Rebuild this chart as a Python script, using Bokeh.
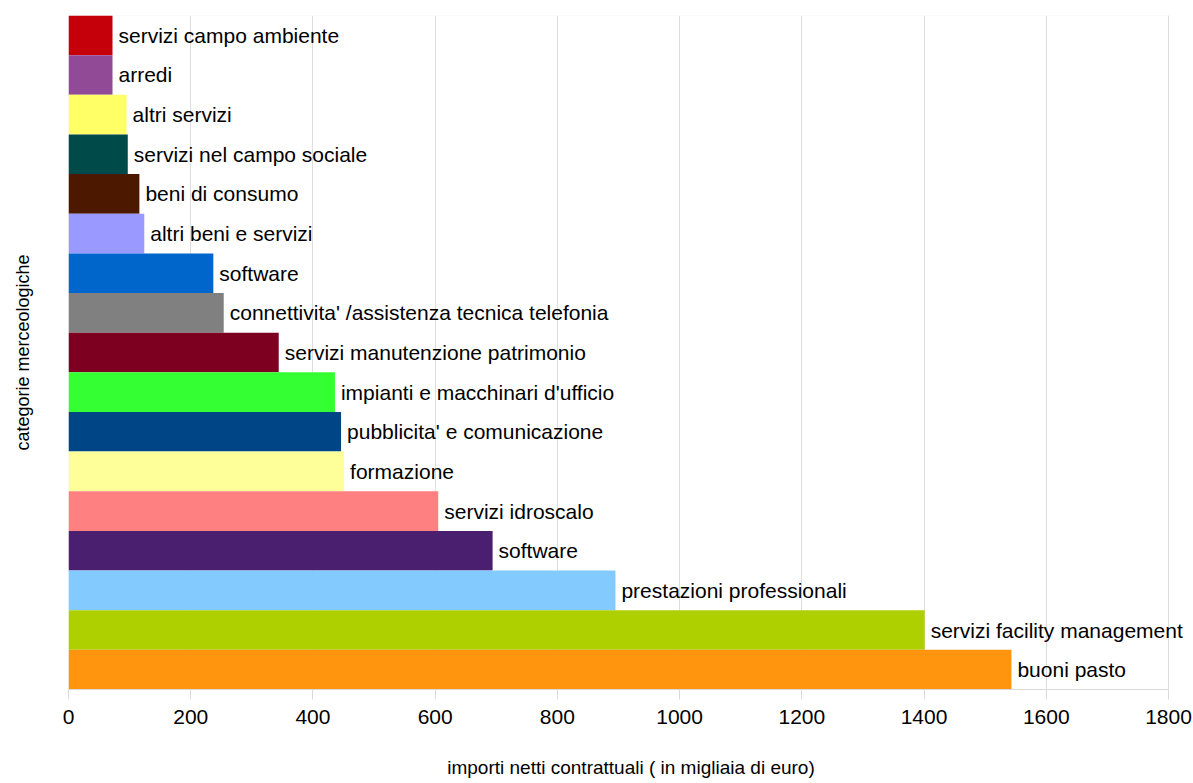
from bokeh.plotting import figure
from bokeh.models import ColumnDataSource, Range1d, FixedTicker, BoxAnnotation
from bokeh.embed import file_html
from bokeh.resources import INLINE
from bokeh.core.properties import value

categories = [
    "servizi campo ambiente",
    "arredi",
    "altri servizi",
    "servizi nel campo sociale",
    "beni di consumo",
    "altri beni e servizi",
    "software",
    "connettivita' /assistenza tecnica telefonia",
    "servizi manutenzione patrimonio",
    "impianti e macchinari d'ufficio",
    "pubblicita' e comunicazione",
    "formazione",
    "servizi idroscalo",
    "software",
    "prestazioni professionali",
    "servizi facility management",
    "buoni pasto",
]
values = [72, 72, 95, 97, 116, 124, 237, 254, 344, 436, 446, 451, 605, 694, 895, 1401, 1543]
colors = [
    "#C5000B", "#904A96", "#FFFF66", "#004A4A", "#4C1900", "#9999FF",
    "#0066CC", "#808080", "#7E0021", "#33FF33", "#004586", "#FFFF99",
    "#FF8080", "#4B1F6F", "#83CAFF", "#AECF00", "#FF950E",
]
x_ticks = [0, 200, 400, 600, 800, 1000, 1200, 1400, 1600, 1800]
x_max = 1800

n = len(categories)
pos = [n - 1 - i for i in range(n)]

src = ColumnDataSource(dict(y=pos, x=values, c=colors, label=categories))

W, H = 1193, 780
left_b, top_b, bottom_b = 68, 15, 90
axis_px = 1100  # pixels spanned by 0..1800
frame_w = W - left_b
x_end = x_max * frame_w / axis_px

p = figure(width=W, height=H, output_backend="svg", toolbar_location=None,
           x_range=Range1d(0, x_end), y_range=Range1d(-0.5, n - 0.5),
           min_border_left=left_b, min_border_right=0, min_border_top=top_b,
           min_border_bottom=bottom_b)

p.hbar(y="y", right="x", left=0, height=1.0, fill_color="c", line_color=None, source=src)
p.text(x="x", y="y", text="label", source=src, x_offset=6, text_baseline="middle",
       text_align="left", text_font=value("Liberation Sans"), text_font_size="21px",
       text_color="#000000")

ya = p.yaxis[0]
ya.ticker = FixedTicker(ticks=[])
ya.major_label_text_font_size = "0px"
ya.major_tick_out = 0
ya.major_tick_in = 0
ya.minor_tick_out = 0
ya.minor_tick_in = 0
ya.axis_line_color = None
ya.axis_label = "categorie merceologiche"
ya.axis_label_text_font = "Liberation Sans"
ya.axis_label_text_font_style = "normal"
ya.axis_label_text_font_size = "18px"
ya.axis_label_text_color = "#000000"
ya.axis_label_standoff = 36
p.ygrid.visible = False

xa = p.xaxis[0]
xa.bounds = (0, x_max)
xa.ticker = FixedTicker(ticks=x_ticks)
xa.major_label_text_font = "Liberation Sans"
xa.major_label_text_font_size = "21px"
xa.major_label_text_color = "#000000"
xa.major_label_standoff = 10
xa.major_tick_out = 10
xa.major_tick_in = 0
xa.minor_tick_out = 0
xa.minor_tick_in = 0
xa.major_tick_line_color = "#d9d9d9"
xa.axis_line_color = "#d9d9d9"
xa.axis_label = "importi netti contrattuali ( in migliaia di euro)"
xa.axis_label_text_font = "Liberation Sans"
xa.axis_label_text_font_style = "normal"
xa.axis_label_text_font_size = "19px"
xa.axis_label_text_color = "#000000"
xa.axis_label_standoff = 30

p.xgrid.ticker = FixedTicker(ticks=x_ticks)
p.xgrid.grid_line_color = "#dddddd"
p.outline_line_color = None

frame_box = BoxAnnotation(left=0, right=x_max, bottom=-0.5, top=n - 0.5,
                          fill_color=None, fill_alpha=0, line_color="#dddddd",
                          line_width=1, level="underlay")
p.add_layout(frame_box)

p.background_fill_color = "white"
p.border_fill_color = "white"

open("out.html", "w").write(file_html(p, INLINE))
